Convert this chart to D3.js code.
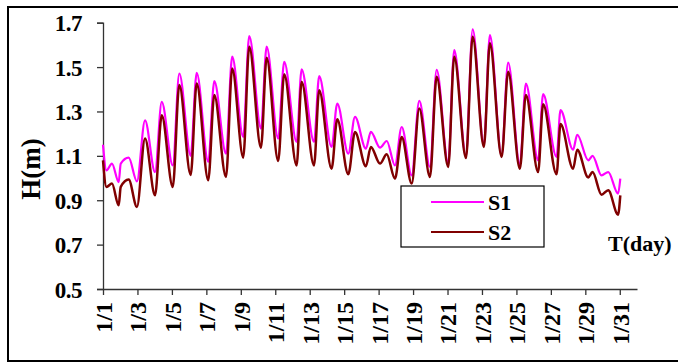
<!DOCTYPE html>
<html>
<head>
<meta charset="utf-8">
<script src="https://cdn.jsdelivr.net/npm/d3@7"></script>
<style>
  body { margin: 0; background: #fff; }
  svg { display: block; }
  .txt { font-family: "Liberation Serif", "Times New Roman", serif; font-weight: bold; fill: #000; }
</style>
</head>
<body>
<script>
// Chart Params
var svgWidth = 678;
var svgHeight = 364;

// time in days from 1/1 0:00, read at the turning points of the curves
var days = [0.0, 0.2, 0.52, 0.91, 1.03, 1.49, 1.97, 2.44, 3.02, 3.41, 4.05, 4.43, 5.09, 5.44, 6.11, 6.46,
  7.14, 7.5, 8.14, 8.49, 9.17, 9.5, 10.17, 10.52, 11.24, 11.53, 12.25, 12.55, 13.27, 13.6, 14.24, 14.63,
  15.26, 15.55, 16.08, 16.47, 16.95, 17.34, 17.92, 18.36, 18.98, 19.37, 20.04, 20.39, 21.07, 21.46,
  22.11, 22.46, 23.14, 23.52, 24.2, 24.55, 25.26, 25.55, 26.33, 26.56, 27.29, 27.53, 28.17, 28.42,
  28.94, 29.33, 29.9, 30.03];

var s1 = [1.15, 1.035, 1.065, 0.982, 1.065, 1.092, 0.985, 1.26, 1.027, 1.343, 1.057, 1.471, 1.10, 1.474, 1.073, 1.437,
  1.11, 1.547, 1.185, 1.64, 1.223, 1.592, 1.178, 1.524, 1.163, 1.49, 1.163, 1.459, 1.14, 1.336, 1.11, 1.276,
  1.133, 1.208, 1.137, 1.167, 1.057, 1.23, 1.012, 1.348, 1.05, 1.487, 1.065, 1.577, 1.098, 1.67,
  1.148, 1.644, 1.10, 1.52, 1.057, 1.426, 1.08, 1.378, 1.095, 1.306, 1.128, 1.195, 1.08, 1.10,
  1.012, 1.027, 0.93, 0.997];

var s2 = [1.08, 0.96, 0.975, 0.877, 0.96, 0.993, 0.87, 1.178, 0.922, 1.283, 0.96, 1.419, 1.014, 1.426, 0.99, 1.374,
  1.005, 1.494, 1.092, 1.592, 1.137, 1.542, 1.077, 1.468, 1.057, 1.434, 1.057, 1.396, 1.042, 1.265, 1.017, 1.208,
  1.053, 1.14, 1.065, 1.107, 0.997, 1.185, 0.975, 1.313, 1.005, 1.456, 1.05, 1.547, 1.09, 1.637,
  1.14, 1.607, 1.095, 1.479, 1.042, 1.374, 1.027, 1.332, 1.017, 1.243, 1.042, 1.128, 1.003, 1.027,
  0.925, 0.945, 0.835, 0.922];

var tickDays = [0, 2, 4, 6, 8, 10, 12, 14, 16, 18, 20, 22, 24, 26, 28, 30];
var tickLabels = ["1/1", "1/3", "1/5", "1/7", "1/9", "1/11", "1/13", "1/15", "1/17", "1/19",
  "1/21", "1/23", "1/25", "1/27", "1/29", "1/31"];
var yTicks = [0.5, 0.7, 0.9, 1.1, 1.3, 1.5, 1.7];

var svg = d3.select("body")
  .append("svg")
  .attr("width", svgWidth)
  .attr("height", svgHeight);

// outer frame
svg.append("rect")
  .attr("x", 8).attr("y", 7)
  .attr("width", 680).attr("height", 354)
  .attr("fill", "none")
  .attr("stroke", "#000")
  .attr("stroke-width", 2);

var xScale = d3.scaleLinear().domain([0, 31]).range([103, 637]);
var yScale = d3.scaleLinear().domain([0.5, 1.7]).range([289, 22.7]);

// y axis
var leftAxis = d3.axisLeft(yScale)
  .tickValues(yTicks)
  .tickSize(6)
  .tickPadding(15)
  .tickFormat(d3.format(".1f"));

var yAxisG = svg.append("g")
  .attr("transform", "translate(103,0)")
  .call(leftAxis);
yAxisG.select(".domain").attr("stroke", "#333").attr("stroke-width", 1.3);
yAxisG.selectAll(".tick line").attr("stroke", "#333").attr("stroke-width", 1.3);
yAxisG.selectAll(".tick text")
  .attr("class", "txt")
  .style("font-size", "23px")
  .style("letter-spacing", "-0.5px")
  .attr("dy", "0.35em");

// x axis
var bottomAxis = d3.axisBottom(xScale)
  .tickValues(tickDays)
  .tickSize(6)
  .tickSizeOuter(0)
  .tickFormat((d, i) => tickLabels[i]);

var xAxisG = svg.append("g")
  .attr("transform", "translate(0,289)")
  .call(bottomAxis);
xAxisG.select(".domain").attr("stroke", "#333").attr("stroke-width", 1.3);
xAxisG.selectAll(".tick line").attr("stroke", "#333").attr("stroke-width", 1.3);
xAxisG.selectAll(".tick text")
  .attr("class", "txt")
  .style("font-size", "24px")
  .attr("text-anchor", "end")
  .attr("transform", "rotate(-90)")
  .attr("x", -13)
  .attr("y", 0)
  .attr("dy", "0.35em");

// lines
var pts1 = days.map((d, i) => [d, s1[i]]);
var pts2 = days.map((d, i) => [d, s2[i]]);

var line = d3.line()
  .x(d => xScale(d[0]))
  .y(d => yScale(d[1]))
  .curve(d3.curveMonotoneX);

svg.append("path")
  .attr("d", line(pts1))
  .attr("fill", "none")
  .attr("stroke", "#ff00ff")
  .attr("stroke-width", 2.2);

svg.append("path")
  .attr("d", line(pts2))
  .attr("fill", "none")
  .attr("stroke", "#800000")
  .attr("stroke-width", 2.5);

// axis titles
svg.append("text")
  .attr("class", "txt")
  .attr("transform", "translate(40,169) rotate(-90)")
  .attr("text-anchor", "middle")
  .style("font-size", "27px")
  .text("H(m)");

svg.append("text")
  .attr("class", "txt")
  .attr("x", 608).attr("y", 251)
  .style("font-size", "22px")
  .text("T(day)");

// legend
var legend = svg.append("g");
legend.append("rect")
  .attr("x", 401).attr("y", 186)
  .attr("width", 143).attr("height", 61)
  .attr("fill", "#fff")
  .attr("stroke", "#000")
  .attr("stroke-width", 1.2);

var legendItems = [
  { name: "S1", color: "#ff00ff", y: 202 },
  { name: "S2", color: "#800000", y: 232 }
];
legendItems.forEach(function(item) {
  legend.append("line")
    .attr("x1", 431).attr("x2", 484)
    .attr("y1", item.y).attr("y2", item.y)
    .attr("stroke", item.color)
    .attr("stroke-width", 1.8);
  legend.append("text")
    .attr("class", "txt")
    .attr("x", 488).attr("y", item.y + 8)
    .style("font-size", "22px")
    .text(item.name);
});
</script>
</body>
</html>
